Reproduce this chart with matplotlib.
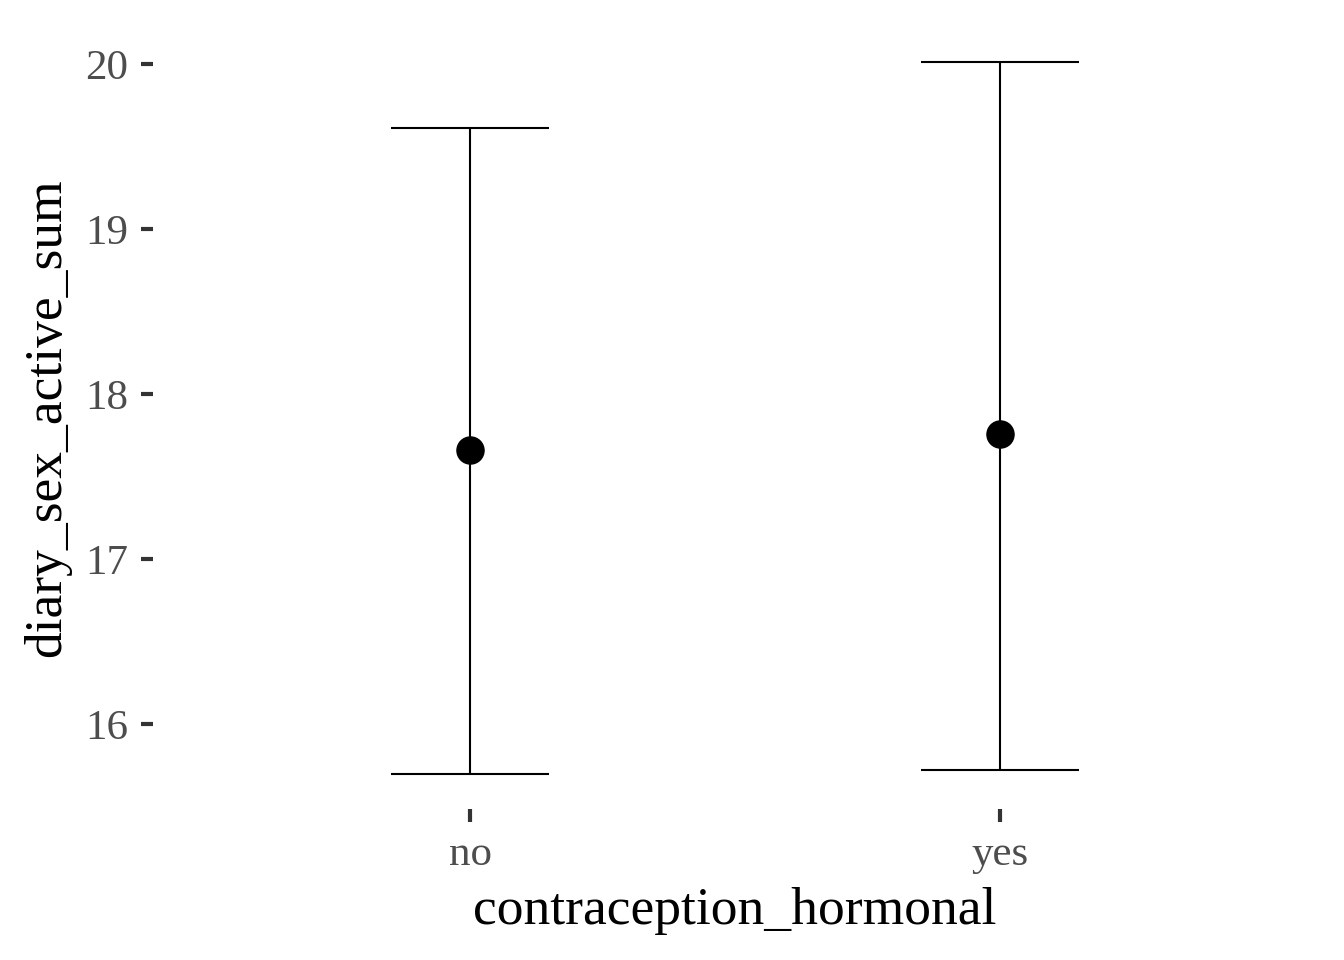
import numpy as np
import matplotlib.pyplot as plt

# summary values
groups = ['no', 'yes']
means  = [17.66, 17.76]
lower  = [15.70, 15.72]
upper  = [19.61, 20.01]

plt.rcParams['font.family'] = ['Liberation Serif', 'DejaVu Serif']

fig = plt.figure(figsize=(13.44, 9.6), dpi=100)
ax = fig.add_axes([0.1138, 0.157, 0.8662, 0.815])

x = np.arange(len(groups))
m = np.array(means)
yerr = [m - np.array(lower), np.array(upper) - m]

ax.errorbar(x, m, yerr=yerr, fmt='none', ecolor='black', elinewidth=1.5,
            capsize=57, capthick=1.5)
ax.plot(x, m, 'o', color='black', markersize=19.5)

ax.set_xlim(-0.6, 1.6)
lo, hi = min(lower), max(upper)
pad = (hi - lo) * 0.05
ax.set_ylim(lo - pad, hi + pad)

ax.set_xticks(x)
ax.set_xticklabels(groups)
ax.set_yticks([16, 17, 18, 19, 20])

for s in ax.spines.values():
    s.set_visible(False)
ax.tick_params(axis='both', length=9, width=3, color='#333333',
               labelcolor='#4D4D4D', labelsize=31)
ax.tick_params(axis='x', pad=10)
ax.tick_params(axis='y', pad=9)

ax.set_xlabel('contraception_hormonal', fontsize=38.5, labelpad=9)
ax.set_ylabel('diary_sex_active_sum', fontsize=38.5, labelpad=10)

plt.savefig('out.png')
